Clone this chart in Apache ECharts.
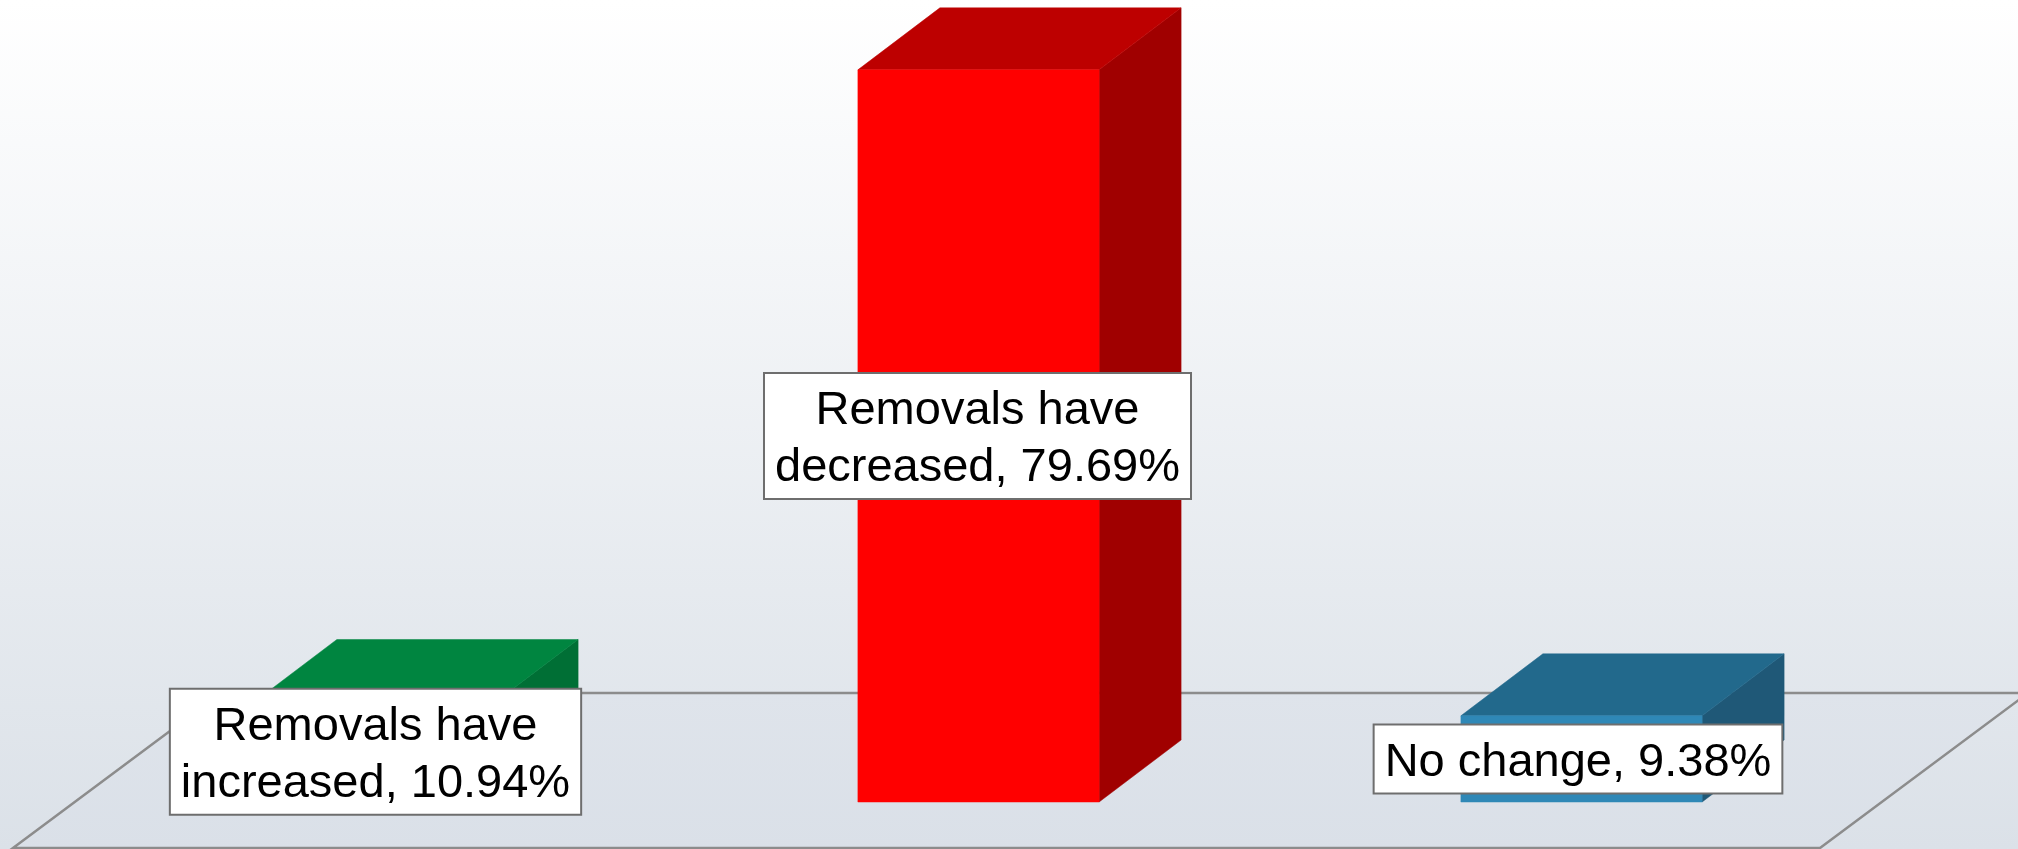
<!DOCTYPE html>
<html>
<head>
<meta charset="utf-8">
<style>html,body{margin:0;padding:0;overflow:hidden;background:#fff}#c{width:2018px;height:849px}</style>
<script src="https://cdn.jsdelivr.net/npm/echarts@6/dist/echarts.min.js"></script>
</head>
<body>
<div id="c"></div>
<script>
const categories = ['Removals have\nincreased', 'Removals have\ndecreased', 'No change'];
const values = [10.94, 79.69, 9.38];
const frontColors = ['#009e4c', '#ff0000', '#2f88b7'];
const topColors = ['#008540', '#bd0000', '#22698c'];
const sideColors = ['#006f35', '#a00000', '#1f5877'];
const labelShiftX = [0, -1, -3.5];

const DEPTH_X = 82, DEPTH_Y = 62;
const LINE_H = 57, PAD_TOP = 9, PAD_BOTTOM = 1;

const chart = echarts.init(document.getElementById('c'), null, { renderer: 'canvas' });

function renderBar(params, api) {
  const i = api.value(0);
  const v = api.value(1);
  const base = api.coord([i, 0]);
  const top = api.coord([i, v]);
  const w = api.size([1, 0])[0] * 0.4;
  const l = base[0] - w / 2, r = base[0] + w / 2, yb = base[1], yt = top[1];
  const poly = (points, fill) => ({
    type: 'polygon',
    shape: { points },
    style: { fill, stroke: fill, lineWidth: 0.5 }
  });
  const text = categories[i] + ', ' + values[i].toFixed(2) + '%';
  const boxH = text.split('\n').length * LINE_H + PAD_TOP + PAD_BOTTOM;
  return {
    type: 'group',
    children: [
      poly([[r, yb], [r + DEPTH_X, yb - DEPTH_Y], [r + DEPTH_X, yt - DEPTH_Y], [r, yt]], sideColors[i]),
      poly([[l, yt], [r, yt], [r + DEPTH_X, yt - DEPTH_Y], [l + DEPTH_X, yt - DEPTH_Y]], topColors[i]),
      poly([[l, yb], [r, yb], [r, yt], [l, yt]], frontColors[i]),
      {
        type: 'text',
        z2: 50,
        style: {
          x: base[0] + labelShiftX[i],
          y: (yb + yt) / 2 - boxH / 2,
          text,
          align: 'center',
          verticalAlign: 'top',
          fontFamily: '"Liberation Sans", Arial, sans-serif',
          fontSize: 47,
          lineHeight: LINE_H,
          fill: '#000000',
          backgroundColor: '#ffffff',
          borderColor: '#6e6e6e',
          borderWidth: 2,
          padding: [PAD_TOP, 10, PAD_BOTTOM, 10]
        }
      }
    ]
  };
}

chart.setOption({
  animation: false,
  graphic: [
    {
      type: 'rect', z: 0, silent: true,
      shape: { x: 0, y: 0, width: 2018, height: 849 },
      style: {
        fill: new echarts.graphic.LinearGradient(0, 0, 0, 1, [
          { offset: 0, color: '#ffffff' },
          { offset: 1, color: '#dbe1e8' }
        ])
      }
    },
    {
      type: 'polygon', z: 1, silent: true,
      shape: { points: [[13, 848], [221, 693], [2028, 693], [1820, 848]] },
      style: {
        fill: new echarts.graphic.LinearGradient(0, 0, 0, 1, [
          { offset: 0, color: '#dfe4eb' },
          { offset: 1, color: '#dae0e8' }
        ]),
        stroke: '#8c8c8c', lineWidth: 2.5
      }
    }
  ],
  grid: { left: 74, width: 1809, top: 67, height: 735 },
  xAxis: { type: 'category', data: categories, show: false },
  yAxis: { type: 'value', min: 0, max: 80, show: false },
  series: [{
    type: 'custom',
    z: 5,
    clip: false,
    renderItem: renderBar,
    encode: { x: 0, y: 1 },
    data: values.map((v, i) => [i, v])
  }]
});
</script>
</body>
</html>
